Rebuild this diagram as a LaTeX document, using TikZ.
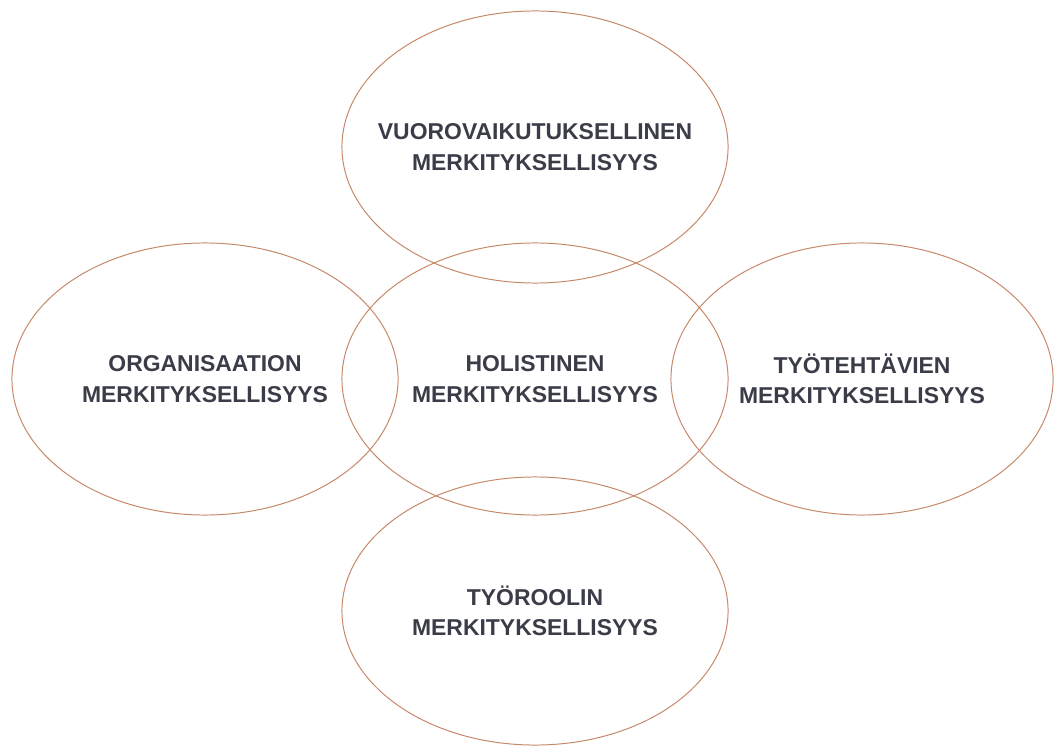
\documentclass[tikz,border=0pt]{standalone}
\usepackage{fontspec}
\setmainfont{Liberation Sans}
\usepackage{tikz}
\usepackage{xcolor}
\usetikzlibrary{positioning}
\usetikzlibrary{shapes.geometric}
\definecolor{ringcol}{RGB}{198,136,104}
\definecolor{textcol}{RGB}{58,60,72}
\tikzset{area/.style={draw=ringcol, line width=0.7pt, ellipse, inner sep=0pt, minimum width=9.65cm, minimum height=6.8cm},
	areatext/.style={align=center, text=textcol, font=\fontsize{16.3}{21.5}\selectfont\bfseries}}

\begin{document}
\begin{tikzpicture}[x=0.025cm, y=-0.025cm]
			\useasboundingbox (0, 0) rectangle (1056, 747);
			\node[area, label={[areatext]center:HOLISTINEN\\MERKITYKSELLISYYS}] at (535, 379) (holistic) {};
			\node[area, label={[areatext]center:VUOROVAIKUTUKSELLINEN\\MERKITYKSELLISYYS}] at (535, 147) (interaction) {};
			\node[area, label={[areatext]center:ORGANISAATION\\MERKITYKSELLISYYS}] at (205, 379) (organisation) {};
			\node[area, minimum width=9.55cm, label={[areatext]center:TYÖTEHTÄVIEN\\MERKITYKSELLISYYS}] at (862, 379) (tasks) {};
			\node[area, minimum height=6.7cm, label={[areatext]center:TYÖROOLIN\\MERKITYKSELLISYYS}] at (535, 611) (role) {};
		\end{tikzpicture}
\end{document}
